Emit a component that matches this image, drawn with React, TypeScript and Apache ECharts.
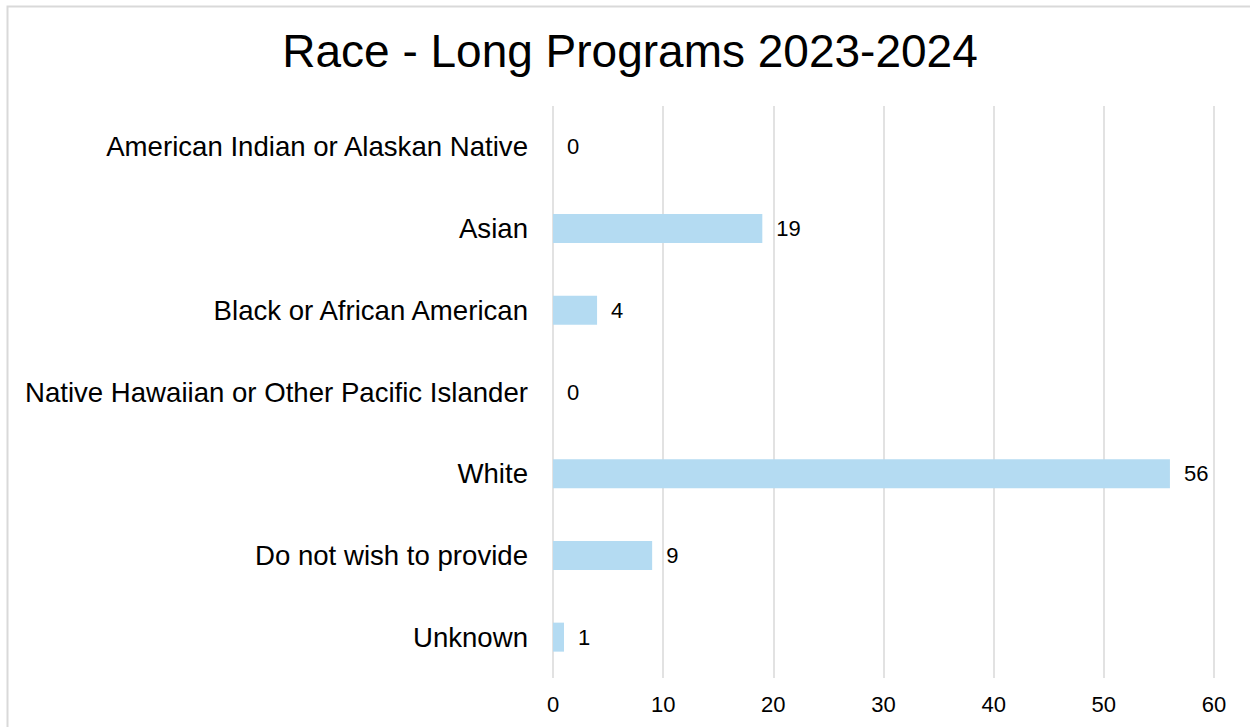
import React, { useEffect, useRef } from "react";
import * as echarts from "echarts";

const categories = [
  "American Indian or Alaskan Native",
  "Asian",
  "Black or African American",
  "Native Hawaiian or Other Pacific Islander",
  "White",
  "Do not wish to provide",
  "Unknown",
];
const values = [0, 19, 4, 0, 56, 9, 1];
const titleText = "Race - Long Programs 2023-2024";

export default function App() {
  const ref = useRef<HTMLDivElement>(null);
  useEffect(() => {
    if (!ref.current) return;
    const chart = echarts.init(ref.current, undefined, { renderer: "svg" });
    const font = "Liberation Sans, Arial, sans-serif";
    chart.setOption({
      animation: false,
      backgroundColor: "#ffffff",
      graphic: [
        {
          type: "rect",
          shape: { x: 7.5, y: 6.5, width: 1300, height: 800 },
          style: { fill: "none", stroke: "#d9d9d9", lineWidth: 2 },
          silent: true,
        },
        {
          type: "text",
          x: 630,
          y: 51,
          style: {
            text: titleText,
            fill: "#000000",
            font: `46px ${font}`,
            textAlign: "center",
            textVerticalAlign: "middle",
          },
        },
      ],
      grid: { left: 553, right: 36, top: 106, bottom: 49, containLabel: false },
      xAxis: {
        type: "value",
        min: 0,
        max: 60,
        interval: 10,
        axisLine: { show: false },
        axisTick: { show: false },
        splitLine: { show: true, lineStyle: { color: "#d9d9d9", width: 1.5 } },
        axisLabel: { color: "#000000", fontSize: 22, fontFamily: font, margin: 15 },
      },
      yAxis: {
        type: "category",
        inverse: true,
        data: categories,
        axisLine: { show: false },
        axisTick: { show: false },
        splitLine: { show: false },
        axisLabel: { color: "#000000", fontSize: 27.6, fontFamily: font, margin: 25 },
      },
      series: [
        {
          type: "bar",
          data: values,
          barWidth: 29,
          itemStyle: { color: "#b4dbf2" },
          label: {
            show: true,
            position: "right",
            distance: 14,
            color: "#000000",
            fontSize: 22,
            fontFamily: font,
          },
        },
      ],
    });
    return () => chart.dispose();
  }, []);
  return (
    <div
      ref={ref}
      style={{ position: "absolute", left: 0, top: 0, width: 1250, height: 727 }}
    />
  );
}
